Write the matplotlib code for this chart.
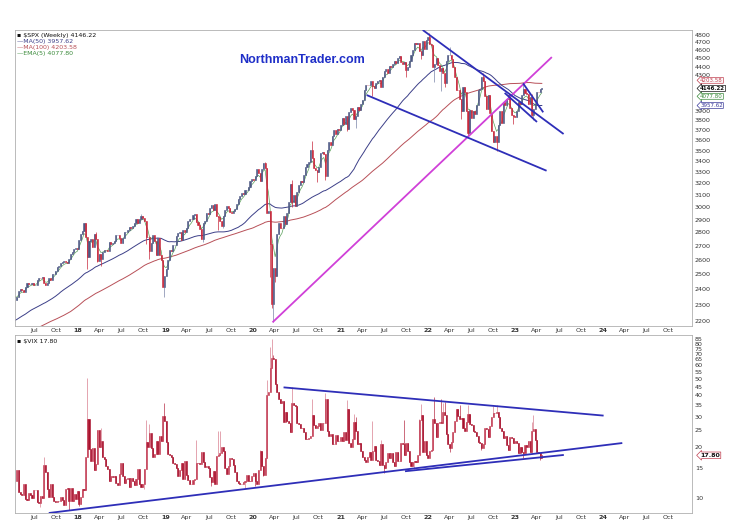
import numpy as np
import pandas as pd
import matplotlib
matplotlib.use("Agg")
import matplotlib.pyplot as plt
import matplotlib.dates as mdates
import matplotlib.transforms as mtrans
from matplotlib.ticker import FixedLocator, NullLocator, FixedFormatter

# ---------------- DATA ----------------
# weekly closes before the visible window (needed for the 50/100-week averages)
spx_hist_close = [
    2108, 2116, 2122, 2126, 2107,
    2092, 2094, 2110, 2102,
    2076, 2077, 2126, 2080, 2104,
    2078, 2092, 1971, 1989,
    1921, 1961, 1958, 1931,
    1951, 2015, 2033, 2075, 2079,
    2099, 2023, 2089, 2090,
    2092, 2012, 2006, 2061, 2044,
    1922, 1880, 1907, 1940,
    1880, 1865, 1918, 1948,
    1999, 2022, 2050, 2036,
    2073, 2048, 2081, 2092, 2065,
    2058, 2047, 2053, 2099,
    2099, 2096, 2071, 2037,
    2103, 2130, 2162, 2175, 2174,
    2183, 2184, 2184, 2169,
    2180, 2128, 2139, 2165, 2168,
    2153, 2133, 2141, 2126,
    2085, 2164, 2182, 2213,
    2192, 2260, 2258, 2263, 2239,
    2277, 2275, 2271, 2295,
    2297, 2316, 2351, 2367,
    2383, 2373, 2378, 2344, 2363,
    2355, 2329,
]

# weekly closes, first week ending 2017-04-21
spx_close = [
    2348.69, 2384.20,
    2399.29, 2390.90, 2381.73, 2415.82,
    2439.07, 2431.77, 2433.15, 2438.30, 2423.41,
    2425.18, 2459.27, 2472.54, 2472.10,
    2476.83, 2441.32, 2425.55, 2443.05,
    2476.55, 2461.43, 2500.23, 2502.22, 2519.36,
    2549.33, 2553.17, 2575.21, 2581.07,
    2587.84, 2582.30, 2578.85, 2602.42,
    2642.22, 2651.50, 2675.81, 2683.34, 2673.61,
    # 2018
    2743.15, 2786.24, 2810.30, 2872.87,
    2762.13, 2619.55, 2732.22, 2747.30,
    2691.25, 2786.57, 2752.01, 2588.26, 2640.87,
    2604.47, 2656.30, 2670.14, 2669.91,
    2663.42, 2727.72, 2712.97, 2721.33,
    2734.62, 2779.03, 2779.66, 2754.88, 2718.37,
    2759.82, 2801.31, 2801.83, 2818.82,
    2840.35, 2833.28, 2850.13, 2874.69, 2901.52,
    2871.68, 2904.98, 2929.67, 2913.98,
    2885.57, 2767.13, 2767.78, 2658.69,
    2723.06, 2781.01, 2736.27, 2632.56, 2760.17,
    2633.08, 2599.95, 2416.62, 2485.74,
    # 2019
    2531.94, 2596.26, 2670.71, 2664.76,
    2706.53, 2707.88, 2775.60, 2792.67,
    2803.69, 2743.07, 2822.48, 2800.71, 2834.40,
    2892.74, 2907.41, 2905.03, 2939.88,
    2945.64, 2881.40, 2859.53, 2826.06, 2752.06,
    2873.34, 2886.98, 2950.46, 2941.76,
    2990.41, 3013.77, 2976.61, 3025.86,
    2932.05, 2918.65, 2888.68, 2847.11, 2926.46,
    2978.71, 3007.39, 2992.07, 2961.79,
    2952.01, 2970.27, 2986.20, 3022.55,
    3066.91, 3093.08, 3120.46, 3110.29, 3140.98,
    3145.91, 3168.80, 3221.22, 3240.02,
    # 2020
    3234.85, 3265.35, 3329.62, 3295.47, 3225.52,
    3327.71, 3380.16, 3337.75, 2954.22,
    2972.37, 2711.02, 2304.92, 2541.47,
    2488.65, 2789.82, 2874.56, 2836.74,
    2830.71, 2929.80, 2863.70, 2955.45, 3044.31,
    3193.93, 3041.31, 3097.74, 3009.05,
    3130.01, 3185.04, 3224.73, 3215.63, 3271.12,
    3351.28, 3372.85, 3397.16, 3508.01,
    3426.96, 3340.97, 3319.47, 3298.46,
    3348.44, 3477.13, 3483.81, 3465.39, 3269.96,
    3509.44, 3585.15, 3557.54, 3638.35,
    3699.12, 3663.46, 3709.41, 3703.06, 3756.07,
    # 2021
    3824.68, 3768.25, 3841.47, 3714.24,
    3886.83, 3934.83, 3906.71, 3811.15,
    3841.94, 3943.34, 3913.10, 3974.54,
    4019.87, 4128.80, 4185.47, 4180.17, 4181.17,
    4232.60, 4173.85, 4155.86, 4204.11,
    4229.89, 4247.44, 4166.45, 4280.70,
    4352.34, 4369.55, 4327.16, 4411.79, 4395.26,
    4436.52, 4468.00, 4441.67, 4509.37,
    4535.43, 4458.58, 4432.99, 4455.48,
    4357.04, 4391.34, 4471.37, 4544.90, 4605.38,
    4697.53, 4682.85, 4697.96, 4594.62,
    4538.43, 4712.02, 4620.64, 4725.79, 4766.18,
    # 2022
    4677.03, 4662.85, 4397.94, 4431.85,
    4500.53, 4418.64, 4348.87, 4384.65,
    4328.87, 4204.31, 4463.12, 4543.06,
    4545.86, 4488.28, 4392.59, 4271.78, 4131.93,
    4123.34, 4023.89, 3901.36, 4158.24,
    4108.54, 3900.86, 3674.84, 3911.74,
    3825.33, 3899.38, 3863.16, 3961.63, 4130.29,
    4145.19, 4280.15, 4228.48, 4057.66,
    3924.26, 4067.36, 3873.33, 3693.23, 3585.62,
    3639.66, 3583.07, 3752.75, 3901.06,
    3770.55, 3992.93, 3965.34, 4026.12,
    4071.70, 3934.38, 3852.36, 3844.82, 3839.50,
    # 2023
    3895.08, 3999.09, 3972.61, 4070.56,
    4136.48, 4090.46, 4079.09, 3970.04,
    4045.64, 3861.59, 3916.64, 3970.99, 4109.31,
    4105.02, 4137.64, 4146.22,
]

# notable weekly extremes (wicks)
spx_low_wicks = {
    "2018-02-09": 2532.69, "2018-03-23": 2585.89, "2018-04-06": 2553.80,
    "2018-10-12": 2710.51, "2018-10-26": 2603.54, "2018-11-23": 2631.09,
    "2018-12-28": 2346.58, "2019-06-07": 2728.81, "2019-08-09": 2822.12,
    "2019-08-30": 2834.97, "2020-03-13": 2478.86, "2020-03-20": 2280.52,
    "2020-03-27": 2191.86, "2020-04-03": 2447.49, "2020-06-12": 2999.49,
    "2020-09-25": 3209.45, "2020-10-30": 3233.94, "2021-01-29": 3694.12,
    "2021-03-05": 3723.34, "2021-05-14": 4056.88, "2021-10-01": 4278.94,
    "2021-12-03": 4495.12, "2022-01-28": 4222.62, "2022-02-25": 4114.65,
    "2022-03-11": 4157.87, "2022-05-20": 3810.32, "2022-06-17": 3636.87,
    "2022-09-30": 3584.13, "2022-10-14": 3491.58, "2022-12-23": 3764.49,
    "2023-03-10": 3847.00, "2023-03-17": 3808.86,
}
spx_high_wicks = {
    "2018-01-26": 2872.87, "2018-03-16": 2801.90, "2018-09-21": 2940.91,
    "2020-02-21": 3393.52, "2020-06-12": 3233.13, "2020-09-04": 3588.11,
    "2022-01-07": 4818.62, "2022-04-01": 4637.30, "2022-08-19": 4325.28,
    "2023-02-03": 4195.44, "2023-03-10": 4078.49,
}

vix_close = [
    14.63, 10.82,
    10.57, 10.40, 12.04, 9.81,
    9.75, 10.70, 10.38, 10.02, 11.18,
    11.19, 9.51, 9.36, 10.29,
    10.03, 15.51, 14.26, 11.28,
    10.13, 12.12, 10.17, 9.59, 9.51,
    9.65, 9.61, 10.15, 9.80,
    9.14, 11.29, 11.43, 9.67,
    11.43, 9.58, 10.49, 9.90, 11.04,
    # 2018
    9.22, 10.16, 11.27, 11.08,
    17.31, 29.06, 19.46, 16.49,
    19.59, 14.64, 15.80, 24.87, 19.97,
    21.49, 17.41, 16.88, 15.41,
    14.77, 12.65, 13.42, 13.22,
    13.46, 12.18, 11.98, 13.77, 16.09,
    13.37, 12.18, 12.86, 13.03,
    11.64, 13.16, 12.64, 11.99, 12.86,
    14.88, 12.07, 11.68, 12.12,
    14.82, 21.31, 19.89, 24.16,
    19.51, 17.36, 18.14, 21.52, 18.07,
    23.23, 21.63, 30.11, 28.34,
    # 2019
    21.38, 18.19, 17.80, 17.42,
    16.14, 15.72, 14.91, 13.51,
    14.63, 16.05, 12.88, 16.48, 13.71,
    12.82, 12.01, 12.09, 12.73,
    12.87, 16.04, 15.96, 15.85, 18.71,
    16.30, 15.28, 15.40, 15.08,
    13.28, 12.39, 14.45, 12.16,
    17.61, 17.97, 18.47, 19.87, 18.98,
    15.00, 13.74, 15.32, 17.22,
    17.04, 15.58, 14.25, 12.65,
    12.30, 12.07, 12.05, 12.34, 12.62,
    13.62, 12.63, 12.51, 13.43,
    # 2020
    14.02, 12.56, 12.10, 14.56, 18.84,
    15.47, 13.68, 17.08, 40.11,
    41.94, 57.83, 66.04, 65.54,
    46.80, 41.67, 38.15, 35.93,
    37.19, 27.98, 31.89, 28.16, 27.51,
    24.52, 36.09, 35.12, 34.73,
    27.68, 27.29, 25.68, 25.84, 24.46,
    22.21, 22.05, 22.54, 22.96,
    30.75, 26.87, 25.83, 26.38,
    27.63, 25.00, 27.41, 27.55, 38.02,
    24.86, 23.10, 23.70, 20.84,
    20.79, 23.31, 21.57, 21.53, 22.75,
    # 2021
    21.56, 24.34, 21.91, 33.09,
    20.87, 19.97, 22.05, 27.95,
    24.66, 20.69, 20.95, 18.86,
    17.33, 16.69, 16.25, 17.33, 18.61,
    16.69, 18.81, 20.15, 16.76,
    16.42, 15.65, 20.70, 15.62,
    15.07, 16.18, 18.45, 17.20, 18.24,
    16.15, 15.45, 18.56, 16.39,
    16.41, 20.95, 20.81, 17.75,
    21.15, 18.77, 16.30, 15.43, 16.26,
    16.48, 16.29, 17.91, 28.62,
    30.67, 18.69, 21.57, 17.96, 17.22,
    # 2022
    18.76, 19.19, 28.85, 27.66,
    22.86, 27.36, 27.75, 27.59,
    31.98, 30.75, 23.87, 20.81,
    19.63, 21.16, 24.37, 28.21, 33.40,
    30.19, 28.87, 29.43, 25.72,
    24.79, 27.75, 31.13, 27.23,
    26.70, 24.64, 24.23, 23.03, 21.33,
    21.15, 19.53, 20.60, 25.56,
    25.47, 22.79, 26.30, 29.92, 31.62,
    31.36, 32.02, 29.69, 25.75,
    24.55, 22.52, 23.12, 20.50,
    19.06, 22.83, 22.62, 20.87, 21.67,
    # 2023
    21.13, 18.35, 19.85, 18.51,
    18.33, 20.53, 20.02, 21.67,
    18.49, 24.80, 25.51, 21.74, 18.70,
    18.40, 17.07, 17.80,
]
vix_first_open = 12.5

vix_high_wicks = {
    "2017-08-11": 17.28, "2018-02-09": 50.30, "2018-03-23": 25.20,
    "2018-04-06": 25.72, "2018-10-12": 28.84, "2018-10-26": 27.00,
    "2018-12-21": 30.40, "2018-12-28": 36.20, "2019-05-10": 22.00,
    "2019-08-09": 24.81, "2019-08-16": 24.60, "2020-01-31": 19.00,
    "2020-02-28": 49.48, "2020-03-13": 76.83, "2020-03-20": 85.47,
    "2020-03-27": 69.00, "2020-04-03": 60.00, "2020-06-12": 44.44,
    "2020-09-04": 38.28, "2020-10-30": 41.16, "2021-01-29": 37.51,
    "2021-02-26": 31.16, "2021-03-05": 30.00, "2021-05-14": 28.38,
    "2021-06-18": 22.00, "2021-09-24": 28.79, "2021-11-26": 28.99,
    "2021-12-03": 35.32, "2022-01-28": 38.94, "2022-02-25": 37.79,
    "2022-03-04": 36.00, "2022-03-11": 36.64, "2022-05-13": 35.00,
    "2022-06-17": 35.05, "2022-09-30": 34.50, "2022-10-14": 34.88,
    "2023-03-10": 28.00, "2023-03-17": 30.81,
}
vix_low_wicks = {
    "2017-07-28": 8.84, "2017-11-24": 8.56, "2018-01-05": 8.92,
    "2018-10-05": 11.34, "2019-07-12": 11.69, "2019-11-29": 11.50,
    "2020-01-10": 11.75, "2020-02-14": 13.38, "2021-07-02": 14.10,
    "2021-11-05": 14.80, "2022-04-01": 18.55, "2022-08-12": 19.00,
    "2023-02-03": 17.06, "2023-04-14": 16.60,
}

# tick labels 4000-4200 sit under the value boxes, as in the reference
spx_yticks = [2200, 2300, 2400, 2500, 2600, 2700, 2800, 2900, 3000, 3100, 3200,
              3300, 3400, 3500, 3600, 3700, 3800, 3900, 4300, 4400, 4500, 4600,
              4700, 4800]
vix_yticks = [10, 15, 20, 25, 30, 35, 40, 45, 50, 55, 60, 65, 70, 75, 80, 85]

# drawn trend lines: (start date, value, end date, value, colour)
spx_trendlines = [
    ("2020-03-23", 2191.86, "2023-06-02", 4516, "#d040d8"),
    ("2021-12-10", 4862, "2023-07-21", 3662, "#2e2eb8"),
    ("2021-04-20", 4072, "2023-05-11", 3313, "#2e2eb8"),
    ("2023-02-02", 4204, "2023-04-27", 3885, "#2e2eb8"),
    ("2022-11-17", 4096, "2023-04-01", 3784, "#2e2eb8"),
]
vix_trendlines = [
    ("2020-05-08", 44.5, "2024-01-04", 30.4, "#2e2eb8"),
    ("2017-09-01", 8.17, "2024-03-22", 21.0, "#2e2eb8"),
    ("2021-09-27", 14.35, "2023-07-22", 17.88, "#2e2eb8"),
]

spx_label = "$SPX (Weekly) 4146.22"
ma50_label = "MA(50) 3957.62"
ma100_label = "MA(100) 4203.58"
ema5_label = "EMA(5) 4077.80"
vix_label = "$VIX 17.80"
# (value, text, edge colour, text colour, weight, vertical nudge in points)
right_boxes_spx = [(4203.58, "4203.58", "#c04050", "#c04050", "normal", 2.2),
                   (4146.22, "4146.22", "#111111", "#111111", "bold", 0.0),
                   (4077.80, "4077.80", "#3a8a3a", "#3a8a3a", "normal", -1.3),
                   (3957.62, "3957.62", "#3a3a9a", "#3a3a9a", "normal", 0.0)]
vix_last = 17.80

# ---------------- COMPUTE ----------------
dates = pd.date_range("2017-04-21", periods=len(spx_close), freq="W-FRI")
hist_dates = pd.DatetimeIndex([dates[0] - pd.Timedelta(days=7 * k)
                               for k in range(len(spx_hist_close), 0, -1)])
full = pd.Series(spx_hist_close + spx_close, index=hist_dates.append(dates), dtype=float)
ma50 = full.rolling(50).mean()
ma100 = full.rolling(100).mean()
ema5 = full.ewm(span=5, adjust=False).mean()
opens_full = full.shift(1)

spx_c = np.array(spx_close, float)
spx_o = opens_full.loc[dates].values
vix_c = np.array(vix_close, float)
vix_o = np.concatenate([[vix_first_open], vix_c[:-1]])


def wick_array(d, base, fn):
    arr = base.copy()
    idx = dates.get_indexer(pd.to_datetime(list(d.keys())), method="nearest")
    for i, v in zip(idx, d.values()):
        arr[i] = fn(arr[i], v)
    return arr


spx_lo = wick_array(spx_low_wicks, np.minimum(spx_o, spx_c), min)
spx_hi = wick_array(spx_high_wicks, np.maximum(spx_o, spx_c), max)
vix_lo = wick_array(vix_low_wicks, np.minimum(vix_o, vix_c), min)
vix_hi = wick_array(vix_high_wicks, np.maximum(vix_o, vix_c), max)

# ---------------- PLOT ----------------
W, H = 738, 530
fig = plt.figure(figsize=(W / 100, H / 100), dpi=100)
fig.patch.set_facecolor("white")


def px_axes(l, t, r, b):
    return fig.add_axes([l / W, 1 - b / H, (r - l) / W, (b - t) / H])


ax1 = px_axes(15, 30, 692, 326)
ax2 = px_axes(15, 335, 692, 513)

xnum = mdates.date2num(dates)
xmin = mdates.date2num(pd.Timestamp("2017-04-13"))
xmax = mdates.date2num(pd.Timestamp("2025-01-07"))


def candles(ax, o, c, lo, hi, up_col, dn_col, wick_up, wick_dn, lw_wick=0.5):
    up = c >= o
    body_col = np.where(up, up_col, dn_col)
    wick_col = np.where(up, wick_up, wick_dn)
    ax.vlines(xnum, lo, hi, colors=list(wick_col), linewidth=lw_wick, zorder=3)
    bot = np.minimum(o, c)
    top = np.maximum(o, c)
    ax.bar(xnum, top - bot, bottom=bot, width=4.4, color=list(body_col),
           edgecolor=list(body_col), linewidth=0.4, zorder=4)


# Top panel
ax1.plot(mdates.date2num(ma100.index), ma100.values, color="#b85058", lw=0.7, zorder=2)
ax1.plot(mdates.date2num(ma50.index), ma50.values, color="#3c3f88", lw=0.7, zorder=2)
ax1.plot(mdates.date2num(ema5.index), ema5.values, color="#5aa05a", lw=0.5, zorder=2)
candles(ax1, spx_o, spx_c, spx_lo, spx_hi, "#4d5883", "#c8283c", "#7a84a8", "#c8283c")
for d0, v0, d1, v1, col in spx_trendlines:
    ax1.plot(mdates.date2num(pd.to_datetime([d0, d1])), [v0, v1], color=col,
             lw=1.3, zorder=5, solid_capstyle="butt")
ax1.set_yscale("log")
ax1.set_ylim(2170, 4862)

# Bottom panel
candles(ax2, vix_o, vix_c, vix_lo, vix_hi, "#c23a52", "#a8102c", "#d98090", "#b83048")
for d0, v0, d1, v1, col in vix_trendlines:
    ax2.plot(mdates.date2num(pd.to_datetime([d0, d1])), [v0, v1], color=col,
             lw=1.3, zorder=5, solid_capstyle="butt")
ax2.set_yscale("log")
ax2.set_ylim(8.17, 90.2)

# x ticks
tick_dates = pd.date_range("2017-07-01", "2024-10-01", freq="QS-JAN")
tick_labels = []
for d in tick_dates:
    tick_labels.append(d.strftime("%y") if d.month == 1 else d.strftime("%b"))

for ax, yt in ((ax1, spx_yticks), (ax2, vix_yticks)):
    ax.set_xlim(xmin, xmax)
    ax.set_facecolor("white")
    for s in ax.spines.values():
        s.set_color("#b0b0b0")
        s.set_linewidth(0.6)
    ax.set_xticks(mdates.date2num(tick_dates))
    ax.set_xticklabels(tick_labels)
    for lab, d in zip(ax.get_xticklabels(), tick_dates):
        lab.set_fontsize(4.6)
        lab.set_color("#333333")
        if d.month == 1:
            lab.set_fontweight("bold")
    ax.yaxis.tick_right()
    ax.yaxis.set_major_locator(FixedLocator(yt))
    ax.yaxis.set_major_formatter(FixedFormatter([str(v) for v in yt]))
    ax.yaxis.set_minor_locator(NullLocator())
    ax.tick_params(axis="both", length=0, pad=2, labelsize=4.6, colors="#333333")
    ax.tick_params(axis="x", pad=1.5)

# right side value boxes
tr1 = mtrans.blended_transform_factory(ax1.transAxes, ax1.transData)
for val, txt, ec, tc, fw, dy in right_boxes_spx:
    ax1.annotate(txt, xy=(1.012, val), xycoords=tr1, xytext=(0, dy),
                 textcoords="offset points", va="center", ha="left", fontsize=4.0,
                 color=tc, fontweight=fw, zorder=10, annotation_clip=False,
                 bbox=dict(boxstyle="larrow,pad=0.08", fc="white", ec=ec, lw=0.5))
tr2 = mtrans.blended_transform_factory(ax2.transAxes, ax2.transData)
ax2.text(1.012, vix_last, f"{vix_last:.2f}", transform=tr2, va="center", ha="left",
         fontsize=4.6, color="#111111", fontweight="bold", zorder=10, clip_on=False,
         bbox=dict(boxstyle="larrow,pad=0.12", fc="white", ec="#c04050", lw=0.5))

# legends (top-left)
ax1.text(0.003, 0.982, "\u25aa " + spx_label, transform=ax1.transAxes, fontsize=4.5,
         color="#111111", va="center", ha="left")
ax1.text(0.003, 0.962, "\u2014" + ma50_label, transform=ax1.transAxes, fontsize=4.5,
         color="#3c3f88", va="center", ha="left")
ax1.text(0.003, 0.942, "\u2014" + ma100_label, transform=ax1.transAxes, fontsize=4.5,
         color="#b85058", va="center", ha="left")
ax1.text(0.003, 0.922, "\u2014" + ema5_label, transform=ax1.transAxes, fontsize=4.5,
         color="#3a8a3a", va="center", ha="left")
ax2.text(0.003, 0.962, "\u25aa " + vix_label, transform=ax2.transAxes, fontsize=4.5,
         color="#111111", va="center", ha="left")

fig.text(302 / W, 1 - 60 / H, "NorthmanTrader.com", ha="center", va="center",
         fontsize=9, fontweight="bold", color="#1f2fc8", family="Liberation Sans")

fig.savefig("out.png", dpi=100, facecolor="white")
